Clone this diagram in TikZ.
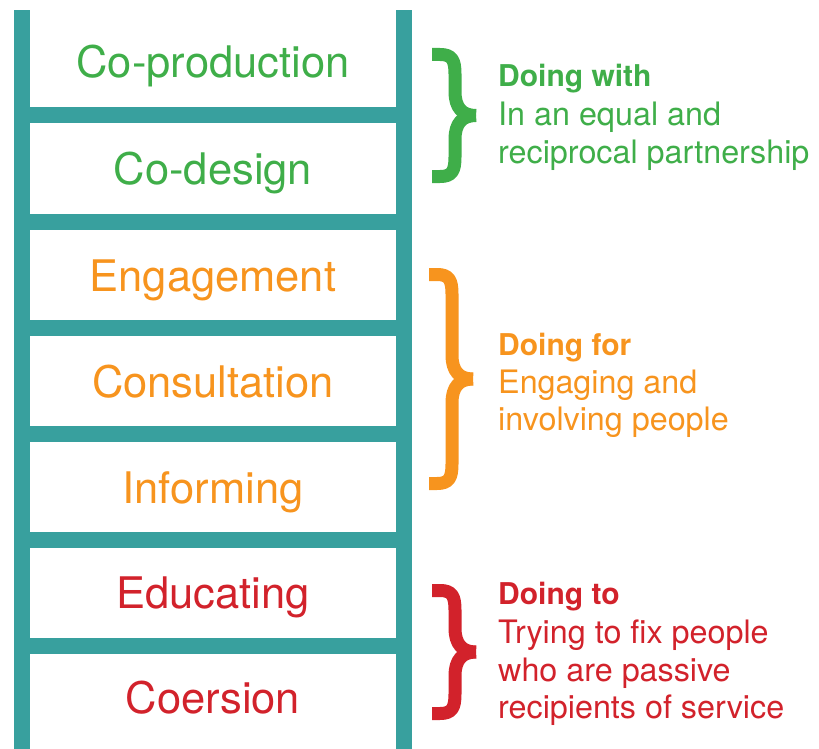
\documentclass[tikz,border=0pt]{standalone}
\usepackage{fontspec}
\setmainfont{TeX Gyre Heros}
\definecolor{teal1}{HTML}{38A09E}
\definecolor{gwith}{HTML}{3FAE49}
\definecolor{ofor}{HTML}{F7941E}
\definecolor{rto}{HTML}{D2222B}
\tikzset{
  rail/.style={fill=teal1, draw=none},
  rungtext/.style={anchor=base, inner sep=0pt, font=\fontsize{43.5}{46}\selectfont},
  headtext/.style={anchor=base west, inner sep=0pt, font=\bfseries\fontsize{30}{36}\selectfont},
  bodytext/.style={anchor=base west, inner sep=0pt, font=\fontsize{32.3}{36}\selectfont},
  bracestroke/.style={line width=13pt, line cap=butt, line join=round},
}
\newcommand\ladderbrace[4]{%
  % #1 left x, #2 top y, #3 bottom y, #4 colour
  \pgfmathsetmacro\bM{(#2+#3)/2}%
  \draw[bracestroke, draw=#4] (#1,{#2+6.5}) -- ({#1+8},{#2+6.5})
    .. controls ({#1+20},{#2+6.5}) and ({#1+23},{#2+12}) .. ({#1+23},{#2+26})
    -- ({#1+23},{\bM-24})
    .. controls ({#1+23},{\bM-8}) and ({#1+30},{\bM}) .. ({#1+44},{\bM});
  \draw[bracestroke, draw=#4] ({#1+44},{\bM})
    .. controls ({#1+30},{\bM}) and ({#1+23},{\bM+8}) .. ({#1+23},{\bM+24})
    -- ({#1+23},{#3-26})
    .. controls ({#1+23},{#3-12}) and ({#1+20},{#3-6.5}) .. ({#1+8},{#3-6.5})
    -- (#1,{#3-6.5});
}
\begin{document}
\begin{tikzpicture}[x=1pt,y=-1pt]
\useasboundingbox (0,0) rectangle (819,749);
% rails
\fill[rail] (14,10) rectangle (30,749);
\fill[rail] (396,10) rectangle (412,749);
% rungs
\foreach \ry in {107.5,213.5,319.5,425.5,531.5,637.5}
  \fill[rail] (14,\ry) rectangle (412,\ry+16);
% ladder labels
\node[rungtext, text=gwith] (coprod) at (213,78) {Co-production};
\node[rungtext, text=gwith] (codes) at (213,184) {Co-design};
\node[rungtext, text=ofor] (engage) at (213,291) {Engagement};
\node[rungtext, text=ofor] (consult) at (213,397) {Consultation};
\node[rungtext, text=ofor] (inform) at (213,503) {Informing};
\node[rungtext, text=rto] (educ) at (213,608) {Educating};
\node[rungtext, text=rto] (coer) at (213,713) {Coersion};
% braces
\ladderbrace{432}{48}{183}{gwith}
\ladderbrace{429}{268}{490}{ofor}
\ladderbrace{432}{584}{720}{rto}
% side texts
\node[headtext, text=gwith] (with0) at (498,86.5) {Doing with};
\node[bodytext, text=gwith] (with1) at (498,125) {In an equal and};
\node[bodytext, text=gwith] (with2) at (498,163) {reciprocal partnership};
\node[headtext, text=ofor] (for0) at (498,355) {Doing for};
\node[bodytext, text=ofor] (for1) at (498,393) {Engaging and};
\node[bodytext, text=ofor] (for2) at (498,430.5) {involving people};
\node[headtext, text=rto] (to0) at (498,604) {Doing to};
\node[bodytext, text=rto] (to1) at (498,643) {Trying to fix people};
\node[bodytext, text=rto] (to2) at (498,681) {who are passive};
\node[bodytext, text=rto] (to3) at (498,718) {recipients of service};
\end{tikzpicture}
\end{document}
